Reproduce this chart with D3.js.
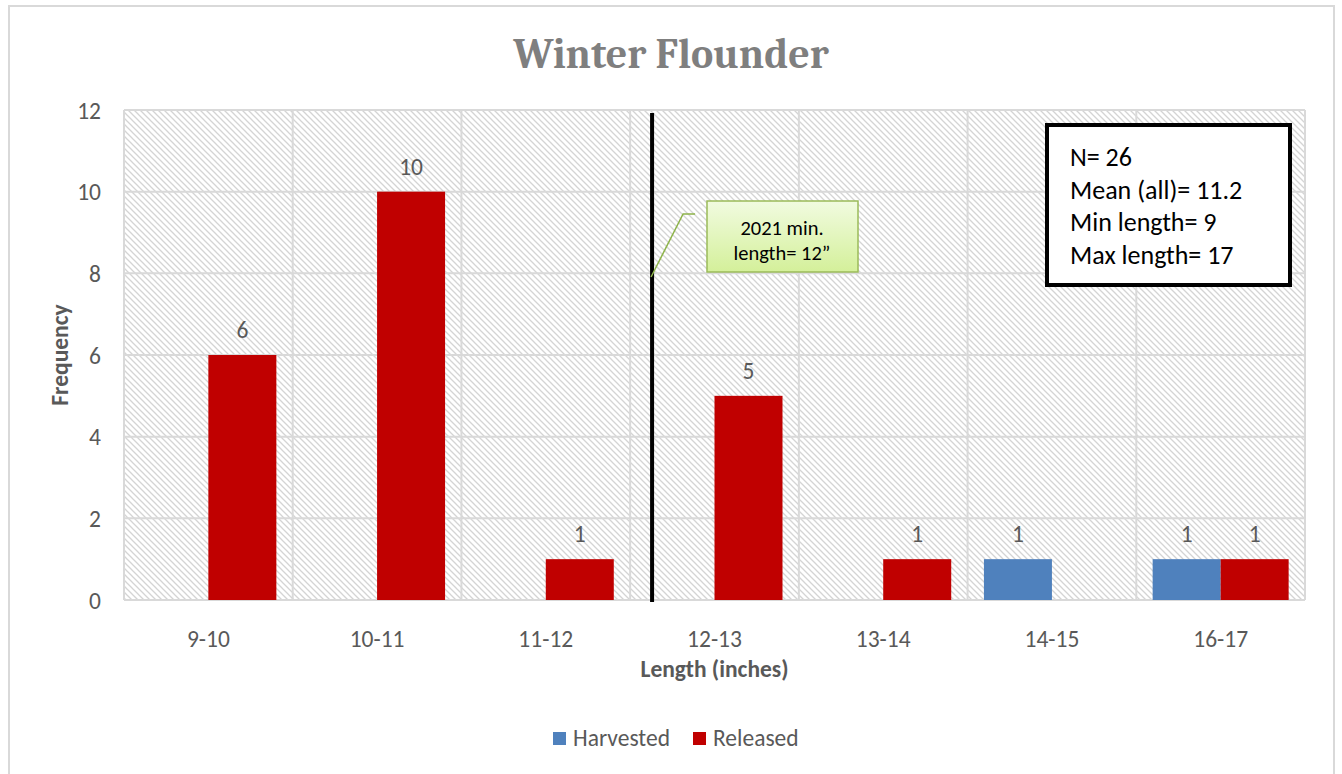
<!DOCTYPE html>
<html><head><meta charset="utf-8">
<script src="https://cdn.jsdelivr.net/npm/d3@7"></script>
<style>body{margin:0;background:#fff}svg{display:block}</style>
</head><body>
<svg id="c" width="1342" height="774"></svg>
<script>
const categories = ["9-10","10-11","11-12","12-13","13-14","14-15","16-17"];
const harvested = [0,0,0,0,0,1,1];
const released = [6,10,1,5,1,0,1];
const yTicks = [0,2,4,6,8,10,12];
const seriesNames = ["Harvested","Released"];
const seriesColors = ["#4f81bd","#c00000"];
const statsLines = ["N= 26","Mean (all)= 11.2","Min length= 9","Max length= 17"];
const calloutLines = ["2021 min.","length= 12\u201d"];

const svg = d3.select("#c");
const m={l:124,r:1305,t:110,b:600};
const font="Carlito, Calibri, 'Open Sans', sans-serif";
const fs=23.5;

// outer frame
svg.append("rect").attr("x",9).attr("y",6).attr("width",1325).attr("height",780)
  .attr("fill","#fff").attr("stroke","#d9d9d9").attr("stroke-width",2);

// hatch pattern
const defs=svg.append("defs");
const pat=defs.append("pattern").attr("id","hatch").attr("patternUnits","userSpaceOnUse")
  .attr("width",6).attr("height",6);
pat.append("rect").attr("width",6).attr("height",6).attr("fill","#fff");
pat.append("path").attr("d","M-1,-1 L7,7 M-1,5 L1,7 M5,-1 L7,1").attr("stroke","#d4d4d4").attr("stroke-width",1.3);
const grad=defs.append("linearGradient").attr("id","cg").attr("x1",0).attr("y1",0).attr("x2",0).attr("y2",1);
grad.append("stop").attr("offset","0%").attr("stop-color","#f1fbe0");
grad.append("stop").attr("offset","100%").attr("stop-color","#d4f09a");

const x=d3.scaleBand().domain(categories).range([m.l,m.r]).paddingInner(0).paddingOuter(0);
const y=d3.scaleLinear().domain([0,12]).range([m.b,m.t]);

svg.append("rect").attr("x",m.l).attr("y",m.t).attr("width",m.r-m.l).attr("height",m.b-m.t).attr("fill","url(#hatch)");

// gridlines
const g=svg.append("g");
g.selectAll(".hg").data(yTicks).join("line").attr("x1",m.l).attr("x2",m.r)
  .attr("y1",d=>y(d)).attr("y2",d=>y(d)).attr("stroke","#d9d9d9").attr("stroke-width",2);
const vb=categories.map(c=>x(c)).concat([m.r]);
g.selectAll(".vg").data(vb).join("line").attr("y1",m.t).attr("y2",m.b)
  .attr("x1",d=>d).attr("x2",d=>d).attr("stroke","#d9d9d9").attr("stroke-width",2);

// bars
const bw=68;
const data=[harvested,released];
data.forEach((arr,si)=>{
  const gs=svg.append("g");
  const pts=categories.map((c,i)=>({c,v:arr[i]})).filter(d=>d.v>0);
  gs.selectAll("rect").data(pts).join("rect")
    .attr("x",d=>x(d.c)+x.bandwidth()/2+(si-1)*bw)
    .attr("y",d=>y(d.v)).attr("width",bw).attr("height",d=>y(0)-y(d.v)).attr("fill",seriesColors[si]);
  gs.selectAll("text").data(pts).join("text")
    .attr("x",d=>x(d.c)+x.bandwidth()/2+(si-0.5)*bw)
    .attr("y",d=>y(d.v)-17).attr("text-anchor","middle")
    .attr("font-family",font).attr("font-size",fs).attr("fill","#595959").text(d=>d.v);
});

// y axis labels
const ya=svg.append("g").attr("transform",`translate(${m.l-23},0)`)
  .call(d3.axisLeft(y).tickValues(yTicks).tickSize(0).tickPadding(0));
ya.select(".domain").remove();
ya.selectAll("text").attr("font-family",font).attr("font-size",fs).attr("fill","#595959").attr("dy","0.35em");

// x axis labels
const xa=svg.append("g").attr("transform",`translate(0,${m.b+30})`)
  .call(d3.axisBottom(x).tickSize(0).tickPadding(0));
xa.select(".domain").remove();
xa.selectAll("text").attr("font-family",font).attr("font-size",fs).attr("fill","#595959").attr("dy","0.71em");

// axis titles
svg.append("text").attr("x",(m.l+m.r)/2).attr("y",677).attr("text-anchor","middle")
  .attr("font-family",font).attr("font-weight","bold").attr("font-size",fs).attr("fill","#595959").text("Length (inches)");
svg.append("text").attr("transform",`translate(68,${(m.t+m.b)/2}) rotate(-90)`).attr("text-anchor","middle")
  .attr("font-family",font).attr("font-weight","bold").attr("font-size",fs).attr("fill","#595959").text("Frequency");

// title
svg.append("text").attr("x",671).attr("y",68).attr("text-anchor","middle")
  .attr("font-family","Cambria, 'DejaVu Serif', serif").attr("font-weight","bold").attr("font-size",42).attr("fill","#7f7f7f")
  .text("Winter Flounder");

// min length line (12")
const lx=x("12-13")+x.bandwidth()*0.13;
svg.append("line").attr("x1",lx).attr("x2",lx).attr("y1",113).attr("y2",602).attr("stroke","#000").attr("stroke-width",4);

// callout
svg.append("polyline").attr("points",`${lx-1},277 ${lx+31},214 ${lx+43},214`).attr("fill","none").attr("stroke","#8db34a").attr("stroke-width",1.5);
svg.append("rect").attr("x",707).attr("y",201).attr("width",151).attr("height",71).attr("fill","url(#cg)")
  .attr("stroke","#9bbb59").attr("stroke-width",1.5);
calloutLines.forEach((t,i)=>svg.append("text").attr("x",782).attr("y",235+i*25).attr("text-anchor","middle")
  .attr("font-family",font).attr("font-size",20.5).attr("fill","#000").text(t));

// stats box
svg.append("rect").attr("x",1047).attr("y",125).attr("width",243).attr("height",160).attr("fill","#fff")
  .attr("stroke","#000").attr("stroke-width",4);
statsLines.forEach((t,i)=>svg.append("text").attr("x",1070).attr("y",166+i*32.5)
  .attr("font-family",font).attr("font-size",26).attr("fill","#000").text(t));

// legend
const lg=svg.append("g");
const lxPos=[553,693];
seriesNames.forEach((n,i)=>{
  lg.append("rect").attr("x",lxPos[i]).attr("y",732).attr("width",13).attr("height",13).attr("fill",seriesColors[i]);
  lg.append("text").attr("x",lxPos[i]+20).attr("y",746).attr("font-family",font).attr("font-size",fs).attr("fill","#595959").text(n);
});
</script>
</body></html>
